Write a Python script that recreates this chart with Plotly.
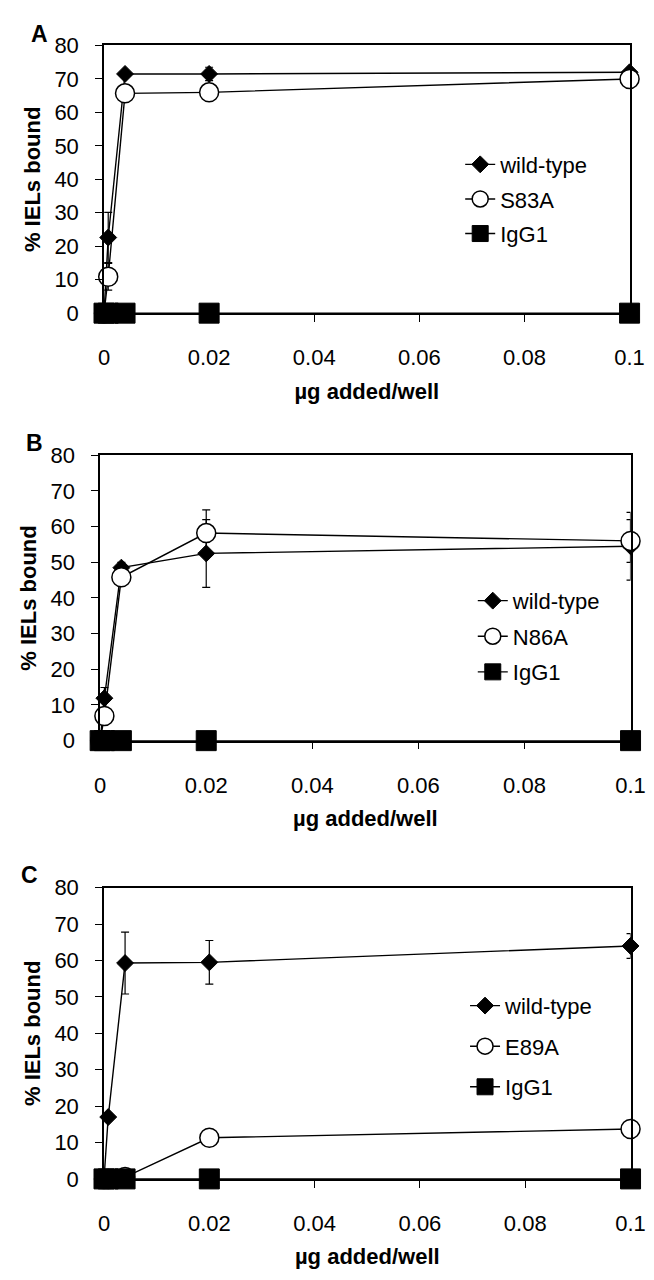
import plotly.graph_objects as go

# ---------------- data ----------------
dose = [0, 0.0008, 0.004, 0.02, 0.1]

# Panel A
a_wt = [0, 22.6, 71.5, 71.5, 72]
a_wt_err = [0, 7.5, 1.0, 2.0, 1.0]
a_mut = [0, 10.9, 65.7, 66, 70]
a_mut_err = [0, 4.0, 1.0, 1.0, 1.0]
a_igg = [0, 0, 0, 0, 0]
a_mut_name = "S83A"

# Panel B
b_wt = [0, 11.9, 48.5, 52.5, 54.5]
b_wt_err = [0, 3.0, 1.5, 9.5, 9.5]
b_mut = [0, 6.9, 45.8, 58.2, 56]
b_mut_err = [0, 1.0, 1.0, 6.5, 6.0]
b_igg = [0, 0, 0, 0, 0]
b_mut_name = "N86A"

# Panel C
c_wt = [0, 17, 59.3, 59.5, 64]
c_wt_err = [0, 1.0, 8.5, 6.0, 3.4]
c_mut = [0, 0, 0.5, 11.3, 13.7]
c_mut_err = [0, 0, 0.5, 1.0, 1.0]
c_igg = [0, 0, 0, 0, 0]
c_mut_name = "E89A"

x_tickvals = [0, 0.02, 0.04, 0.06, 0.08, 0.1]
x_ticktext = ["0", "0.02", "0.04", "0.06", "0.08", "0.1"]
y_tickvals = [0, 10, 20, 30, 40, 50, 60, 70, 80]
panel_letters = ["A", "B", "C"]

# ---------------- layout geometry (pixels) ----------------
W, H = 654, 1280
FONT = "Liberation Sans, Arial, sans-serif"
panels = [
    dict(wt=a_wt, wte=a_wt_err, mut=a_mut, mute=a_mut_err, igg=a_igg, name=a_mut_name,
         x0=93, x1=636, y0=26, y1=299, leg_x=461, leg_y=126, gap=3, letter=(26, 14)),
    dict(wt=b_wt, wte=b_wt_err, mut=b_mut, mute=b_mut_err, igg=b_igg, name=b_mut_name,
         x0=89, x1=637, y0=444, y1=735, leg_x=474, leg_y=571, gap=4, letter=(21, 431)),
    dict(wt=c_wt, wte=c_wt_err, mut=c_mut, mute=c_mut_err, igg=c_igg, name=c_mut_name,
         x0=93, x1=637, y0=885, y1=1182, leg_x=466, leg_y=984, gap=9, letter=(16, 872)),
]

fig = go.Figure()
layout = dict(
    width=W, height=H,
    margin=dict(l=0, r=0, t=0, b=0),
    paper_bgcolor="white", plot_bgcolor="white",
    font=dict(family=FONT, size=22, color="black"),
    annotations=[],
)

for i, p in enumerate(panels):
    n = "" if i == 0 else str(i + 1)
    xa, ya = "x" + n, "y" + n
    leg = "legend" + n
    err_style = dict(type="data", symmetric=True, color="black", thickness=1.2, width=4)
    fig.add_trace(go.Scatter(
        x=dose, y=p["wt"], name="wild-type", mode="lines+markers",
        xaxis=xa, yaxis=ya, legend=leg, legendgroup=f"wt{i}",
        line=dict(color="black", width=1.4),
        marker=dict(symbol="diamond", size=13, color="black", line=dict(color="black", width=1)),
        error_y=dict(array=p["wte"], **err_style),
        cliponaxis=False,
    ))
    fig.add_trace(go.Scatter(
        x=dose, y=p["mut"], name=p["name"], mode="lines+markers",
        xaxis=xa, yaxis=ya, legend=leg, legendgroup=f"mut{i}",
        line=dict(color="black", width=1.4),
        marker=dict(symbol="circle", size=19, color="white", line=dict(color="black", width=1.5)),
        error_y=dict(array=p["mute"], **err_style),
        cliponaxis=False,
    ))
    fig.add_trace(go.Scatter(
        x=dose, y=p["igg"], name="IgG1", mode="lines+markers",
        xaxis=xa, yaxis=ya, legend=leg, legendgroup=f"igg{i}",
        line=dict(color="black", width=1.4),
        marker=dict(symbol="square", size=20, color="black", line=dict(color="black", width=1)),
        cliponaxis=False,
    ))

    layout["xaxis" + n] = dict(
        domain=[p["x0"] / W, p["x1"] / W], anchor=ya, range=[0, 0.1],
        tickvals=x_tickvals, ticktext=x_ticktext, ticks="outside", ticklen=7,
        tickwidth=1.2, tickcolor="black", ticklabelstandoff=17,
        showline=True, linecolor="black", linewidth=1.5, mirror=True,
        showgrid=False, zeroline=False,
        tickfont=dict(family=FONT, size=22, color="black"),
        title=dict(text="<b>µg added/well</b>", standoff=14,
                   font=dict(family=FONT, size=22, color="black")),
    )
    layout["yaxis" + n] = dict(
        domain=[1 - p["y1"] / H, 1 - p["y0"] / H], anchor=xa, range=[0, 80],
        tickvals=y_tickvals, ticks="outside", ticklen=7, tickwidth=1.2, tickcolor="black",
        ticklabelstandoff=12,
        showline=True, linecolor="black", linewidth=1.5, mirror=True,
        showgrid=False, zeroline=False,
        tickfont=dict(family=FONT, size=22, color="black"),
        title=dict(text="<b>% IELs bound</b>", standoff=8,
                   font=dict(family=FONT, size=22, color="black")),
    )
    layout[leg] = dict(
        x=p["leg_x"] / W, y=1 - p["leg_y"] / H, xanchor="left", yanchor="top",
        bgcolor="rgba(0,0,0,0)", borderwidth=0,
        font=dict(family=FONT, size=22, color="black"),
        traceorder="grouped", tracegroupgap=p["gap"], itemwidth=30,
    )
    lx, ly = p["letter"]
    layout["annotations"].append(dict(
        text="<b>" + panel_letters[i] + "</b>", x=lx / W, y=1 - ly / H,
        xref="paper", yref="paper", xanchor="center", yanchor="middle",
        showarrow=False, font=dict(family=FONT, size=23, color="black"),
    ))

fig.update_layout(**layout)
fig.update_layout(showlegend=True)
fig.write_html("out.html")
